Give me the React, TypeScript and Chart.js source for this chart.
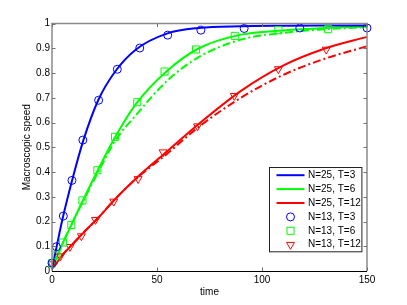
import React, { useEffect, useRef } from 'react';
import { Chart, registerables } from 'chart.js';

Chart.register(...registerables);

// Curve samples (N=25 solid, dash-dot companions)
const lineTimes = [0, 2, 5, 10, 15, 22, 30, 40, 55, 70, 90, 110, 130, 150];
const blueSolid = [0.01, 0.09, 0.21, 0.38, 0.53, 0.69, 0.805, 0.895, 0.96, 0.982, 0.989, 0.991, 0.992, 0.992];
const greenSolid = [0.01, 0.05, 0.11, 0.2, 0.29, 0.41, 0.54, 0.675, 0.81, 0.9, 0.955, 0.972, 0.982, 0.988];
const greenDashDot = [0.01, 0.05, 0.11, 0.2, 0.285, 0.4, 0.525, 0.63, 0.77, 0.865, 0.935, 0.962, 0.977, 0.985];
const redSolid = [0.01, 0.03, 0.065, 0.11, 0.155, 0.215, 0.29, 0.374, 0.485, 0.595, 0.728, 0.83, 0.899, 0.946];
const redDashDot = [0.01, 0.03, 0.065, 0.11, 0.155, 0.215, 0.29, 0.372, 0.475, 0.583, 0.7, 0.792, 0.858, 0.908];

// Marker series (N=13)
const circleT = [0, 2.1, 5.4, 9.5, 14.7, 22.2, 31.1, 41.8, 55.1, 70.9, 91.5, 118, 150];
const circleV = [0.032, 0.098, 0.222, 0.366, 0.529, 0.69, 0.815, 0.901, 0.953, 0.973, 0.98, 0.982, 0.982];
const squareT = [0, 2.1, 5.2, 9.2, 14.5, 21.6, 30, 40.6, 53.6, 68.6, 87, 107.8, 131.5];
const squareV = [0.031, 0.063, 0.115, 0.186, 0.285, 0.407, 0.542, 0.682, 0.806, 0.895, 0.95, 0.973, 0.977];
const triT = [0, 4, 8.6, 14, 20.7, 29.4, 41, 52.9, 69.3, 86.8, 107.8, 130.6];
const triV = [0.028, 0.06, 0.098, 0.141, 0.207, 0.281, 0.372, 0.48, 0.585, 0.708, 0.816, 0.895];

const xTicks = [0, 50, 100, 150];
const yTicks = [0, 0.1, 0.2, 0.3, 0.4, 0.5, 0.6, 0.7, 0.8, 0.9, 1];

const legendLabels = ['N=25, T=3', 'N=25, T=6', 'N=25, T=12', 'N=13, T=3', 'N=13, T=6', 'N=13, T=12'];
const legendKinds = ['line', 'line', 'line', 'circle', 'rect', 'tri'];

const BLUE = '#0000ff';
const GREEN = '#00ff00';
const RED = '#ff0000';
const legendColors = [BLUE, GREEN, RED, BLUE, GREEN, RED];

const FONT = '"Liberation Sans", Arial, Helvetica, sans-serif';
const DASHDOT = [8, 3, 2, 3];

const pts = (t: number[], v: number[]) => t.map((x, i) => ({ x, y: v[i] }));

const framePlugin = {
  id: 'matlabFrame',
  afterDatasetsDraw(chart: any) {
    const { ctx, chartArea: ca, scales } = chart;
    const xs = scales.x;
    const ys = scales.y;
    ctx.save();
    ctx.strokeStyle = '#8a8a8a';
    ctx.lineWidth = 1.5;
    ctx.beginPath();
    ctx.moveTo(ca.left, ca.bottom);
    ctx.lineTo(ca.left, ca.top);
    ctx.lineTo(ca.right, ca.top);
    ctx.lineTo(ca.right, ca.bottom);
    ctx.stroke();
    ctx.lineWidth = 1;
    ctx.strokeStyle = '#707070';
    ctx.beginPath();
    yTicks.forEach((v) => {
      const y = Math.round(ys.getPixelForValue(v)) + 0.5;
      ctx.moveTo(ca.left, y);
      ctx.lineTo(ca.left + 3.5, y);
      ctx.moveTo(ca.right, y);
      ctx.lineTo(ca.right - 3.5, y);
    });
    xTicks.forEach((v) => {
      const x = Math.round(xs.getPixelForValue(v)) + 0.5;
      ctx.moveTo(x, ca.bottom);
      ctx.lineTo(x, ca.bottom - 3.5);
      ctx.moveTo(x, ca.top);
      ctx.lineTo(x, ca.top + 3.5);
    });
    ctx.stroke();
    ctx.strokeStyle = '#000';
    ctx.lineWidth = 1;
    ctx.beginPath();
    const yb = Math.round(ca.bottom) + 0.5;
    ctx.moveTo(ca.left, yb);
    ctx.lineTo(ca.right, yb);
    ctx.stroke();
    ctx.restore();
  },
  afterDraw(chart: any) {
    const { ctx, chartArea: ca } = chart;
    const bw = 92.4;
    const bh = 84.3;
    const left = Math.round(ca.right - 97.7) + 0.5;
    const top = Math.round(ca.bottom - 104.3) + 0.5;
    ctx.save();
    ctx.fillStyle = '#fff';
    ctx.fillRect(left, top, bw, bh);
    ctx.strokeStyle = '#222';
    ctx.lineWidth = 1;
    ctx.strokeRect(left, top, bw, bh);
    ctx.font = `10px ${FONT}`;
    ctx.textBaseline = 'middle';
    ctx.textAlign = 'left';
    legendLabels.forEach((label, i) => {
      const cy = top + 7.7 + 13.9 * i;
      const color = legendColors[i];
      const kind = legendKinds[i];
      const mx = left + 21;
      ctx.strokeStyle = color;
      if (kind === 'line') {
        ctx.lineWidth = 2;
        ctx.beginPath();
        ctx.moveTo(left + 7, cy);
        ctx.lineTo(left + 35, cy);
        ctx.stroke();
      } else if (kind === 'circle') {
        ctx.lineWidth = 1;
        ctx.beginPath();
        ctx.arc(mx, cy, 4, 0, Math.PI * 2);
        ctx.stroke();
      } else if (kind === 'rect') {
        ctx.lineWidth = 1;
        ctx.strokeRect(mx - 3.5, cy - 3.5, 7, 7);
      } else {
        ctx.lineWidth = 1;
        const r = 4.6;
        ctx.beginPath();
        ctx.moveTo(mx - r * Math.sin(Math.PI / 3), cy - r / 2);
        ctx.lineTo(mx + r * Math.sin(Math.PI / 3), cy - r / 2);
        ctx.lineTo(mx, cy + r);
        ctx.closePath();
        ctx.stroke();
      }
      ctx.fillStyle = '#000';
      ctx.fillText(label, left + 38.5, cy);
    });
    ctx.restore();
  },
};

export default function App() {
  const ref = useRef<HTMLCanvasElement | null>(null);

  useEffect(() => {
    if (!ref.current) return;
    const lineDs = (label: string, t: number[], v: number[], color: string, dash: number[]) => ({
      type: 'scatter' as const,
      label,
      data: pts(t, v),
      showLine: true,
      borderColor: color,
      backgroundColor: color,
      borderWidth: 2,
      borderDash: dash,
      pointRadius: 0,
      cubicInterpolationMode: 'monotone' as const,
      clip: false as const,
    });
    const markDs = (label: string, t: number[], v: number[], color: string, style: string, r: number, rot: number) => ({
      type: 'scatter' as const,
      label,
      data: pts(t, v),
      showLine: false,
      borderColor: color,
      backgroundColor: 'rgba(0,0,0,0)',
      pointStyle: style,
      pointRadius: r,
      pointRotation: rot,
      pointBorderWidth: 1,
      clip: false as const,
    });

    const chart = new Chart(ref.current, {
      type: 'scatter',
      data: {
        datasets: [
          markDs('N=13, T=3', circleT, circleV, BLUE, 'circle', 4, 0),
          markDs('N=13, T=6', squareT, squareV, GREEN, 'rect', 5, 0),
          markDs('N=13, T=12', triT, triV, RED, 'triangle', 4.6, 180),
          lineDs('N=25, T=3', lineTimes, blueSolid, BLUE, []),
          lineDs('N=25, T=6', lineTimes, greenSolid, GREEN, []),
          lineDs('N=25, T=12', lineTimes, redSolid, RED, []),
          lineDs('T=6 dash-dot', lineTimes, greenDashDot, GREEN, DASHDOT),
          lineDs('T=12 dash-dot', lineTimes, redDashDot, RED, DASHDOT),
        ] as any,
      },
      options: {
        animation: false,
        responsive: false,
        devicePixelRatio: 1,
        events: [],
        layout: { padding: { top: 23.5, right: 40, left: 0, bottom: 0 } },
        plugins: {
          legend: { display: false },
          tooltip: { enabled: false },
        },
        scales: {
          x: {
            type: 'linear',
            min: 0,
            max: 150,
            grid: { display: false, drawTicks: false, tickLength: 0 },
            border: { display: false },
            afterBuildTicks: (s: any) => {
              s.ticks = xTicks.map((value) => ({ value }));
            },
            ticks: {
              color: '#000',
              padding: 3,
              maxRotation: 0,
              autoSkip: false,
              font: { family: FONT, size: 10 },
            },
            title: {
              display: true,
              text: 'time',
              color: '#000',
              font: { family: FONT, size: 10 },
              padding: { top: 0, bottom: 7 },
            },
            afterFit: (s: any) => {
              s.height = 34;
            },
          },
          y: {
            type: 'linear',
            min: 0,
            max: 1,
            grid: { display: false, drawTicks: false, tickLength: 0 },
            border: { display: false },
            afterBuildTicks: (s: any) => {
              s.ticks = yTicks.map((value) => ({ value }));
            },
            ticks: {
              color: '#000',
              padding: 2,
              autoSkip: false,
              font: { family: FONT, size: 10 },
              callback: (v: any) => String(Number(Number(v).toFixed(1))),
            },
            title: {
              display: true,
              text: 'Macroscopic speed',
              color: '#000',
              font: { family: FONT, size: 10 },
              padding: { top: 21, bottom: 0 },
            },
            afterFit: (s: any) => {
              s.width = 52;
            },
          },
        },
      } as any,
      plugins: [framePlugin],
    });
    return () => chart.destroy();
  }, []);

  return (
    <div style={{ position: 'fixed', left: 0, top: 0, width: 407, height: 305, background: '#fff' }}>
      <canvas ref={ref} width={407} height={305} style={{ display: 'block', width: 407, height: 305 }} />
    </div>
  );
}
